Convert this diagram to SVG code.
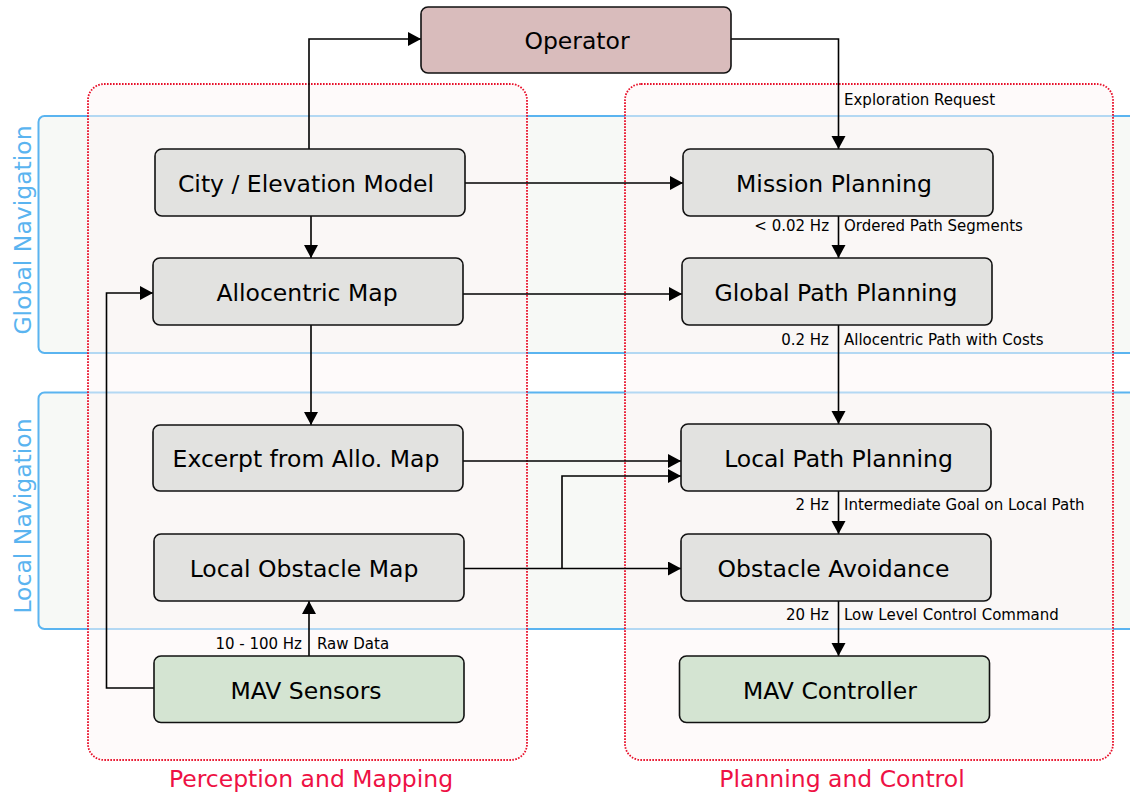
<svg xmlns="http://www.w3.org/2000/svg" width="1130" height="793" viewBox="0 0 1130 793">
  <style>
    text { font-family: "DejaVu Sans", "Liberation Sans", sans-serif; }
    .band { fill: #f6f8f5; fill-opacity: 0.9; stroke: #5ab4f0; stroke-width: 2; }
    .band-label { fill: #5ab4f0; font-size: 23.5px; text-anchor: middle; }
    .group { fill: #fdf6f6; fill-opacity: 0.55; stroke: #e8102a; stroke-width: 1.8; stroke-dasharray: 1.6 1.4; }
    .group-label { fill: #ee1144; font-size: 23.5px; text-anchor: middle; }
    .node rect { fill: #e2e2e0; stroke: #111; stroke-width: 1.6; }
    .node.io rect { fill: #d4e4d2; }
    .node.op rect { fill: #d9bcbc; }
    .node text { fill: #000; font-size: 23.5px; text-anchor: middle; }
    .edge { fill: none; stroke: #000; stroke-width: 1.6; marker-end: url(#arrow); }
    .lbl { fill: #000; font-size: 15px; }
    .lbl.r { text-anchor: end; }
  </style>
  <defs>
    <marker id="arrow" markerUnits="userSpaceOnUse" markerWidth="14" markerHeight="15" refX="13" refY="7" orient="auto">
      <path d="M0,0 L13,7 L0,14 z" fill="#000"/>
    </marker>
  </defs>

  <rect width="1130" height="793" fill="#fff"/>

  <!-- navigation layers -->
  <g id="global-navigation">
    <rect class="band" x="38.5" y="116" width="1110" height="237" rx="6"/>
    <text class="band-label" transform="translate(31,230) rotate(-90)">Global Navigation</text>
  </g>
  <g id="local-navigation">
    <rect class="band" x="38.5" y="392.5" width="1110" height="236.5" rx="6"/>
    <text class="band-label" transform="translate(31,516) rotate(-90)">Local Navigation</text>
  </g>

  <!-- functional groups -->
  <g id="perception-and-mapping">
    <rect class="group" x="88" y="84" width="439" height="676" rx="16"/>
    <text class="group-label" x="311" y="787">Perception and Mapping</text>
  </g>
  <g id="planning-and-control">
    <rect class="group" x="625" y="84" width="488" height="676" rx="16"/>
    <text class="group-label" x="842" y="787">Planning and Control</text>
  </g>

  <!-- connectors -->
  <g id="connectors">
    <path class="edge" d="M309,149 V39 H421"/>
    <path class="edge" d="M731,39 H838.5 V149"/>
    <path class="edge" d="M465,183 H683"/>
    <path class="edge" d="M311,216 V258"/>
    <path class="edge" d="M463,294 H682"/>
    <path class="edge" d="M311,325 V425"/>
    <path class="edge" d="M154,688 H106.5 V293 H153"/>
    <path class="edge" d="M309,656 V601"/>
    <path class="edge" d="M838.5,216 V258"/>
    <path class="edge" d="M838.5,325 V424"/>
    <path class="edge" d="M463,461 H681"/>
    <path class="edge" d="M464,568.5 H681"/>
    <path class="edge" d="M562,568.5 V476 H681"/>
    <path class="edge" d="M838.5,491 V534"/>
    <path class="edge" d="M838.5,601 V656"/>

    <text class="lbl" x="844" y="105">Exploration Request</text>
    <text class="lbl r" x="829" y="231">&lt; 0.02 Hz</text>
    <text class="lbl" x="844" y="231">Ordered Path Segments</text>
    <text class="lbl r" x="829" y="345">0.2 Hz</text>
    <text class="lbl" x="844" y="345">Allocentric Path with Costs</text>
    <text class="lbl r" x="829" y="510">2 Hz</text>
    <text class="lbl" x="844" y="510">Intermediate Goal on Local Path</text>
    <text class="lbl r" x="829" y="620">20 Hz</text>
    <text class="lbl" x="844" y="620">Low Level Control Command</text>
    <text class="lbl r" x="302" y="649">10 - 100 Hz</text>
    <text class="lbl" x="317" y="649">Raw Data</text>
  </g>

  <!-- nodes -->
  <g id="operator" class="node op">
    <rect x="421" y="7" width="310" height="66" rx="7"/>
    <text x="577" y="49">Operator</text>
  </g>
  <g id="city-elevation-model" class="node">
    <rect x="155" y="149" width="310" height="67" rx="7"/>
    <text x="306" y="191.5">City / Elevation Model</text>
  </g>
  <g id="allocentric-map" class="node">
    <rect x="153" y="258" width="310" height="67" rx="7"/>
    <text x="307" y="300.5">Allocentric Map</text>
  </g>
  <g id="excerpt-allo-map" class="node">
    <rect x="153" y="425" width="310" height="66" rx="7"/>
    <text x="306" y="467">Excerpt from Allo. Map</text>
  </g>
  <g id="local-obstacle-map" class="node">
    <rect x="154" y="534" width="310" height="67" rx="7"/>
    <text x="304" y="576.5">Local Obstacle Map</text>
  </g>
  <g id="mav-sensors" class="node io">
    <rect x="154" y="656" width="310" height="66.5" rx="7"/>
    <text x="306" y="698.5">MAV Sensors</text>
  </g>
  <g id="mission-planning" class="node">
    <rect x="683" y="149" width="310" height="67" rx="7"/>
    <text x="834" y="191.5">Mission Planning</text>
  </g>
  <g id="global-path-planning" class="node">
    <rect x="682" y="258" width="310" height="67" rx="7"/>
    <text x="836" y="300.5">Global Path Planning</text>
  </g>
  <g id="local-path-planning" class="node">
    <rect x="681" y="424" width="310" height="67" rx="7"/>
    <text x="838.5" y="466.5">Local Path Planning</text>
  </g>
  <g id="obstacle-avoidance" class="node">
    <rect x="681" y="534" width="310" height="67" rx="7"/>
    <text x="833.5" y="576.5">Obstacle Avoidance</text>
  </g>
  <g id="mav-controller" class="node io">
    <rect x="679.5" y="656" width="310" height="66.5" rx="7"/>
    <text x="830" y="698.5">MAV Controller</text>
  </g>
</svg>
